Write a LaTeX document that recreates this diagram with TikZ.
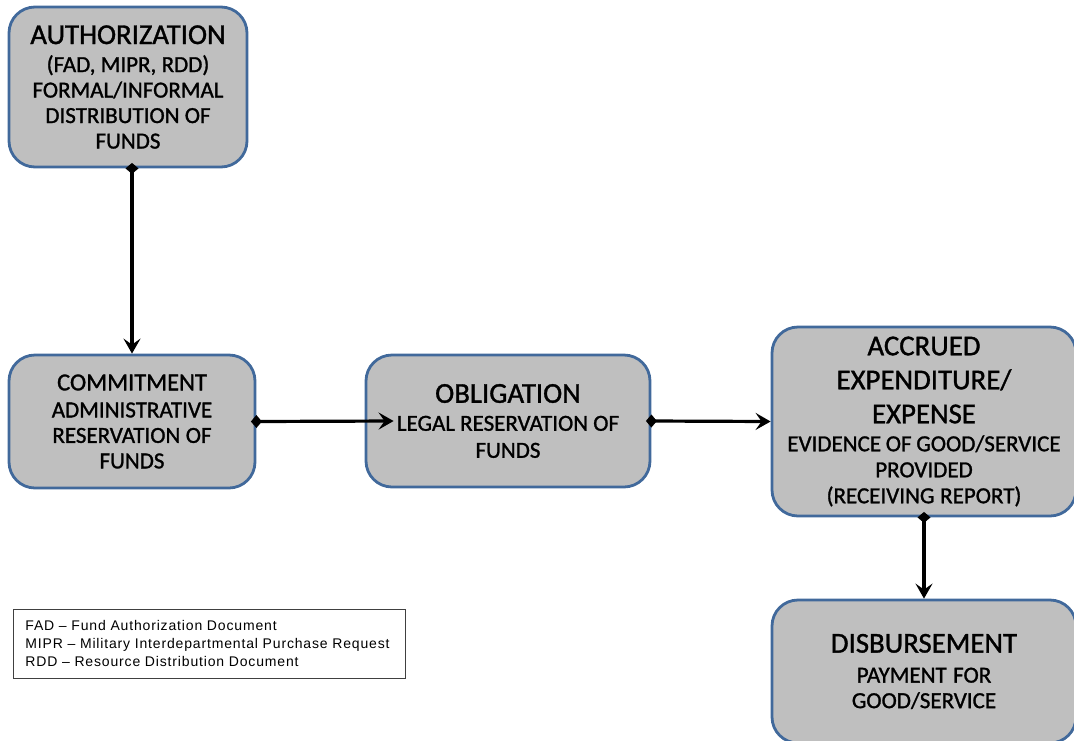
\documentclass[tikz,border=0pt]{standalone}
\usepackage{fontspec}
\setmainfont[FakeBold=1.2]{Carlito}
\newfontfamily\legendfont[LetterSpace=6]{Liberation Sans}
\usetikzlibrary{arrows.meta,calc}
\definecolor{boxblue}{RGB}{65,105,155}
\definecolor{boxgray}{RGB}{191,191,191}
\newcommand\boxtitle{\fontsize{28.8}{30}\selectfont}
\newcommand\boxtitlesm{\fontsize{24.5}{28}\selectfont}
\newcommand\boxsub{\fontsize{23}{25.5}\selectfont}
\begin{document}
\begin{tikzpicture}[x=1pt,y=-1pt,
  box/.style={draw=boxblue, line width=2.8pt, fill=boxgray, rounded corners=26pt,
    inner sep=0pt, align=center, font=\boxsub,
    execute at begin node={\spaceskip=0.19em plus 0.05em\relax}},
  flow/.style={line width=3.2pt, shorten <=-5.5pt,
    {Diamond[length=11pt,width=13pt]}-{Stealth[length=15pt,width=17pt,inset=6pt]}}
]
\useasboundingbox (0,0) rectangle (1074,740);

\node[box, minimum width=238, minimum height=160, text width=236] (auth) at (128,87)
  {{\boxtitle AUTHORIZATION}\\[2.5pt]
   (FAD, MIPR, RDD)\\ FORMAL/INFORMAL\\ DISTRIBUTION OF\\ FUNDS};

\node[box, minimum width=246, minimum height=133, text width=244] (comm) at (132,421.5)
  {{\boxtitlesm COMMITMENT}\\[1.5pt]
   ADMINISTRATIVE\\ RESERVATION OF\\ FUNDS};

\node[box, minimum width=284, minimum height=132, text width=282] (obl) at (508,421)
  {{\boxtitle OBLIGATION}\\[2.5pt]
   LEGAL RESERVATION OF\\[1.5pt] FUNDS};

\node[box, minimum width=304, minimum height=189, text width=302] (acc) at (924,421.5)
  {{\boxtitle ACCRUED}\\[8.5pt]
   {\boxtitle EXPENDITURE/}\\[8.5pt]
   {\boxtitle EXPENSE}\\[2.5pt]
   EVIDENCE OF GOOD/SERVICE\\[0.5pt] PROVIDED\\[0.5pt] (RECEIVING REPORT)};

\node[box, minimum width=304, minimum height=143, text width=302] (disb) at (924,671.5)
  {{\boxtitle DISBURSEMENT}\\[4.5pt]
   PAYMENT FOR\\ GOOD/SERVICE};

\node[draw=black!75, line width=0.8pt, anchor=north west, minimum width=392,
  minimum height=69, inner xsep=12pt, inner ysep=0pt, text width=368, align=left,
  font=\legendfont\fontsize{14}{18}\selectfont] (legend) at (13,609)
  {FAD – Fund Authorization Document\\
   MIPR – Military Interdepartmental Purchase Request\\
   RDD – Resource Distribution Document};

\draw[flow] (auth.south -| comm.north) -- (comm.north);
\draw[flow] (comm.east) -- ($(obl.west)+(29,0)$);
\draw[flow] (obl.east) -- (acc.west);
\draw[flow] (acc.south) -- (disb.north);
\end{tikzpicture}
\end{document}
